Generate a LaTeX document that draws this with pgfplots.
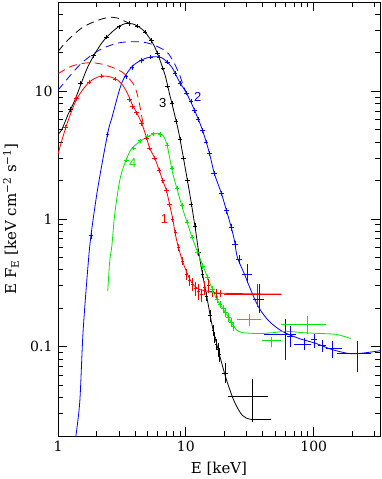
\documentclass[border=0pt]{standalone}
\usepackage{fontspec}
\setmainfont{DejaVu Serif}
\setsansfont{Liberation Sans}
\usepackage{pgfplots}
\pgfplotsset{compat=1.18}

\definecolor{pgblue}{RGB}{0,0,255}
\definecolor{pgred}{RGB}{255,0,0}
\definecolor{pggreen}{RGB}{0,230,0}

\pgfplotsset{
  model/.style={line width=0.8pt, smooth},
  unabs/.style={line width=0.8pt, smooth, dash pattern=on 8pt off 5pt},
  nomark/.style={only marks, mark=text, text mark={}},
  small/.style={nomark,
    error bars/x dir=both, error bars/x explicit relative,
    error bars/y dir=both, error bars/y explicit relative,
    error bars/error mark=none, error bars/error bar style={line width=0.6pt}},
  big/.style={nomark,
    error bars/x dir=both, error bars/x explicit,
    error bars/y dir=both, error bars/y explicit,
    error bars/error mark=none, error bars/error bar style={line width=0.7pt}},
}

\begin{document}
\begin{tikzpicture}
\begin{axis}[
  xmode=log, ymode=log,
  scale only axis, width=322pt, height=434pt,
  xmin=1, xmax=330, ymin=0.02, ymax=50,
  log ticks with fixed point,
  /pgf/number format/assume math mode=true,
  tick align=inside,
  major tick length=9pt, minor tick length=5pt,
  axis line style={line width=0.9pt},
  every tick/.style={line width=0.8pt, black},
  tick label style={font=\fontsize{14}{14}\selectfont},
  xticklabel style={yshift=-2pt},
  yticklabel style={xshift=-2pt},
  xlabel={E [keV]},
  ylabel={E F\textsubscript{E} [keV cm\textsuperscript{−2} s\textsuperscript{−1}]},
  label style={font=\fontsize{15}{15}\selectfont},
  xlabel style={at={(axis description cs:0.5,-0.076)}, anchor=center},
  ylabel style={at={(axis description cs:-0.146,0.5)}, anchor=center},
]

% unabsorbed models (dashed)
\addplot[unabs, black] coordinates {(1,20.5)(1.2,25.3)(1.54,31.4)(1.94,35.2)(2.45,37.8)(2.9,37.5)(3.51,34.5)(4.1,32.5)};
\addplot[unabs, pgblue] coordinates {(1,10.2)(1.48,16.1)(2.12,21.1)(3.04,24)(4.36,24.4)(5.5,23.2)(7.07,20.4)(8.0,17.0)(8.9,13.6)(9.5,11.2)(10.1,9.7)};
\addplot[unabs, pgred] coordinates {(1,13.7)(1.2,15.3)(1.41,16.2)(1.7,16.7)(2.0,16.6)(2.32,16.1)(2.7,15.3)(3.15,14.2)(3.6,12.6)(4.0,10.8)(4.3,8.3)(4.7,5.1)};

% absorbed models
\addplot[model, black] coordinates {(1,4.6)(1.07,5.0)(1.2,6.6)(1.36,8.6)(1.71,15.5)(2.2,23.9)(2.78,30.4)(3.33,33.8)(3.98,33.3)(4.76,29.3)(5.7,22.3)(6.8,13.9)(7.46,9.5)(8.16,6.6)(8.93,4.4)(10.7,1.6)(11.9,0.82)(12.8,0.5)(14.8,0.227)(16.1,0.145)(18.3,0.087)(20.8,0.055)(24.0,0.037)(27.7,0.029)(32.5,0.027)(46.5,0.027)};
\addplot[model, pgblue] coordinates {(1.37,0.019)(1.48,0.037)(1.57,0.13)(1.71,0.41)(1.81,0.74)(2.05,1.76)(2.45,4.7)(2.64,6.2)(3.15,11.6)(3.77,15.5)(4.52,17.6)(5.4,18.6)(6.47,18.3)(7.74,15.5)(8.93,11.8)(10.1,9.7)(11.7,7.1)(13.5,4.95)(15.3,3.27)(16.7,2.27)(19.0,1.58)(20.8,1.16)(22.7,0.855)(24.0,0.675)(25.3,0.5)(28.7,0.371)(32.5,0.272)(37.5,0.2)(44.9,0.158)(56.7,0.132)(76.9,0.116)(104.4,0.106)(139,0.095)(189,0.0885)(238,0.089)(330,0.093)};
\addplot[model, pgred] coordinates {(1,3.2)(1.07,4.1)(1.2,5.9)(1.41,8.8)(1.71,11.5)(2.0,12.8)(2.24,13.2)(2.6,12.9)(2.94,12.2)(3.3,10.7)(3.64,8.8)(3.84,7.7)(4.13,6.8)(4.52,5.6)(4.94,4.3)(5.2,3.6)(5.7,3.0)(6.2,2.4)(6.6,2.0)(7.07,1.65)(7.46,1.3)(7.9,1.0)(8.2,0.8)(8.6,0.64)(9.4,0.47)(10.3,0.37)(11.3,0.31)(12.8,0.28)(14.0,0.275)(15.8,0.268)(17.3,0.264)(20,0.262)(30,0.26)(56,0.258)};
\addplot[model, pggreen] coordinates {(2.45,0.272)(2.54,0.47)(2.64,0.62)(2.78,1.1)(3.04,2.0)(3.33,2.73)(3.77,3.56)(4.52,4.13)(5.2,4.5)(6.0,4.69)(6.6,4.53)(7.07,3.92)(7.46,3.04)(7.9,2.27)(8.6,1.67)(9.4,1.22)(10.3,0.92)(11.3,0.70)(12.8,0.50)(14.8,0.35)(17.3,0.24)(20.8,0.18)(23.1,0.15)(25,0.135)(27.7,0.129)(35.6,0.127)(45,0.128)(61,0.132)(81,0.129)(110,0.127)(149,0.125)(196,0.116)};

% data points, small errors
\addplot[small, black] coordinates {
 (1.25,7.2) +- (0.04,0.04) (1.5,11.5) +- (0.04,0.04) (1.9,19) +- (0.04,0.04) (2.4,26.5) +- (0.04,0.04)
 (3.0,32) +- (0.04,0.04) (3.6,34) +- (0.04,0.04) (4.2,32.5) +- (0.04,0.04) (4.8,29) +- (0.04,0.04)
 (5.4,25) +- (0.04,0.04) (6.0,20) +- (0.04,0.04) (6.6,15.2) +- (0.04,0.04) (7.2,11) +- (0.04,0.04)
 (7.8,8.0) +- (0.04,0.04) (8.4,5.8) +- (0.04,0.04) (9.0,4.2) +- (0.04,0.04) (9.6,3.0) +- (0.04,0.04)
 (10.3,2.0) +- (0.04,0.05) (11.0,1.3) +- (0.04,0.05) (11.8,0.88) +- (0.04,0.05) (12.6,0.55) +- (0.04,0.06)
 (13.5,0.37) +- (0.03,0.07) (14.5,0.25) +- (0.03,0.08) (15.5,0.175) +- (0.03,0.1) (16.3,0.135) +- (0.02,0.1)
 (16.8,0.118) +- (0.02,0.1) (17.3,0.105) +- (0.02,0.1) (17.8,0.095) +- (0.02,0.12) (18.3,0.087) +- (0.02,0.12)};
\addplot[small, pgblue] coordinates {
 (1.81,0.74) +- (0.03,0.05) (2.45,4.6) +- (0.03,0.05) (3.4,13) +- (0.04,0.04) (3.8,15.4) +- (0.04,0.04)
 (4.5,17.5) +- (0.04,0.04) (5.3,18.5) +- (0.04,0.04) (6.2,18.4) +- (0.04,0.04) (7.2,17) +- (0.04,0.04)
 (8.2,13.8) +- (0.04,0.04) (9.0,11.5) +- (0.04,0.04) (10.1,9.7) +- (0.04,0.04) (11.0,8.3) +- (0.04,0.04)
 (11.7,7.1) +- (0.04,0.04) (12.5,6.0) +- (0.04,0.04) (13.5,4.95) +- (0.04,0.04) (14.4,4.0) +- (0.04,0.04)
 (15.3,3.27) +- (0.04,0.04) (16.7,2.27) +- (0.05,0.05) (19.0,1.58) +- (0.05,0.05) (20.8,1.16) +- (0.05,0.05)
 (22.7,0.855) +- (0.05,0.06) (24.3,0.63) +- (0.05,0.06) (26.2,0.48) +- (0.05,0.08)};
\addplot[small, pgred] coordinates {
 (1.15,5.2) +- (0.04,0.04) (1.4,8.8) +- (0.04,0.04) (1.75,11.8) +- (0.04,0.04) (2.2,13.2) +- (0.04,0.04)
 (2.8,12.5) +- (0.04,0.04) (3.64,8.6) +- (0.04,0.04) (3.84,7.6) +- (0.04,0.04) (4.13,6.8) +- (0.04,0.04)
 (4.52,5.6) +- (0.04,0.04) (4.94,4.3) +- (0.04,0.04) (5.2,3.6) +- (0.04,0.04) (5.7,3.0) +- (0.04,0.04)
 (6.2,2.4) +- (0.04,0.04) (6.6,2.0) +- (0.04,0.04) (7.07,1.67) +- (0.04,0.04) (7.46,1.3) +- (0.04,0.04)
 (7.9,1.0) +- (0.03,0.05) (8.3,0.78) +- (0.03,0.05) (8.8,0.6) +- (0.03,0.06) (9.4,0.47) +- (0.03,0.07)
 (10.1,0.37) +- (0.03,0.1) (10.7,0.33) +- (0.03,0.1) (11.3,0.31) +- (0.03,0.12) (11.9,0.285) +- (0.03,0.12)
 (12.5,0.27) +- (0.03,0.14) (13.2,0.255) +- (0.03,0.12) (14.0,0.29) +- (0.03,0.12) (15.0,0.30) +- (0.03,0.12)
 (16.0,0.27) +- (0.03,0.1) (17.2,0.26) +- (0.03,0.08) (18.5,0.262) +- (0.04,0.06)};
\addplot[small, pggreen] coordinates {
 (3.45,2.9) +- (0.04,0.04) (3.9,3.6) +- (0.04,0.04) (4.4,4.1) +- (0.04,0.04) (5.0,4.45) +- (0.04,0.04)
 (5.6,4.65) +- (0.04,0.04) (6.3,4.6) +- (0.04,0.04) (7.1,3.8) +- (0.04,0.04) (7.8,2.5) +- (0.04,0.04)
 (8.5,1.75) +- (0.04,0.04) (9.3,1.28) +- (0.04,0.04) (10.2,0.95) +- (0.04,0.04) (11.2,0.72) +- (0.04,0.04)
 (12.3,0.55) +- (0.04,0.05) (13.5,0.43) +- (0.04,0.05) (14.8,0.35) +- (0.04,0.05) (16.2,0.28) +- (0.04,0.06)
 (17.5,0.235) +- (0.04,0.07) (18.5,0.215) +- (0.04,0.07) (19.5,0.20) +- (0.04,0.07) (20.5,0.185) +- (0.04,0.08)
 (21.5,0.17) +- (0.04,0.08) (22.5,0.155) +- (0.04,0.08) (23.5,0.145) +- (0.04,0.08)};

% data points, large errors
\addplot[big, black] coordinates {
 (20.2,0.062) += (1.0,0.012) -= (1.0,0.010)
 (33,0.0406) += (11.1,0.0157) -= (11.5,0.0148)};
\addplot[big, pgred] coordinates {
 (36.2,0.258) += (19.5,0.052) -= (16.2,0.054)};
\addplot[big, pgblue] coordinates {
 (30.3,0.371) += (2.7,0.074) -= (2.6,0.056)
 (37.5,0.236) += (3.6,0.074) -= (3.8,0.053)
 (59.8,0.125) += (13.1,0.039) -= (18.7,0.0456)
 (65.5,0.12) += (3.5,0.024) -= (3.5,0.02)
 (84.2,0.105) += (11.3,0.011) -= (13.9,0.010)
 (100.7,0.114) += (6,0.011) -= (6,0.017)
 (116,0.102) += (8,0.011) -= (8,0.011)
 (139,0.097) += (27,0.013) -= (14,0.016)
 (218,0.0886) += (62,0.023) -= (66,0.025)};
\addplot[big, pggreen] coordinates {
 (31.4,0.164) += (7.5,0.016) -= (6.1,0.019)
 (46.6,0.112) += (9.1,0.008) -= (7.0,0.012)
 (88.9,0.15) += (36.1,0.024) -= (33.2,0.025)};

% curve labels
\node[pgred, font=\fontsize{13}{13}\sffamily] at (axis cs:6.8,1.0) {1};
\node[pgblue, font=\fontsize{13}{13}\sffamily] at (axis cs:12.4,9.0) {2};
\node[black, font=\fontsize{13}{13}\sffamily] at (axis cs:6.6,8.1) {3};
\node[pggreen, font=\fontsize{13}{13}\sffamily] at (axis cs:3.85,2.72) {4};
\end{axis}
\pgfresetboundingbox
\path[use as bounding box] (-58pt,-43pt) rectangle (324pt,436pt);
\end{tikzpicture}
\end{document}
